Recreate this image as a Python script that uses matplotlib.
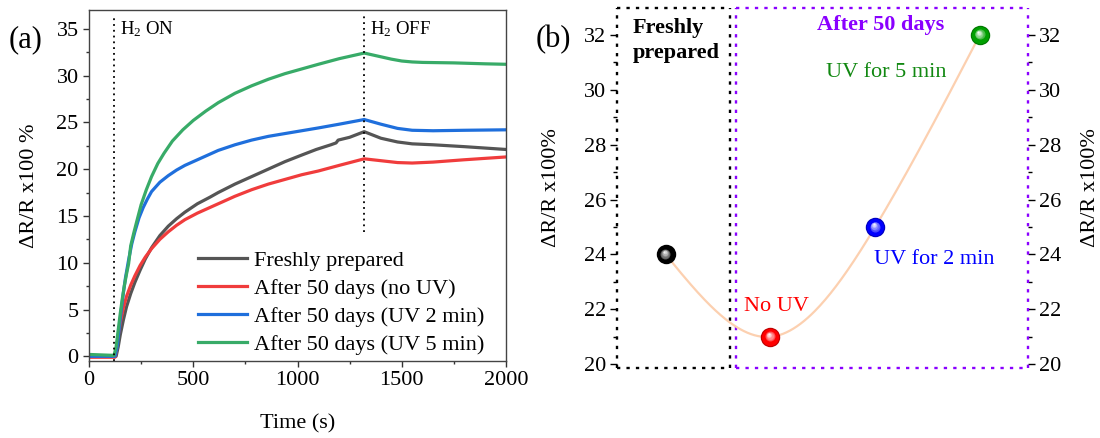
import numpy as np
import matplotlib
matplotlib.use("Agg")
import matplotlib.pyplot as plt
from matplotlib.ticker import MultipleLocator
from matplotlib.transforms import offset_copy
from matplotlib.colors import to_rgb

plt.rcParams["font.family"] = ["Liberation Serif", "DejaVu Serif"]
plt.rcParams["mathtext.fontset"] = "custom"
plt.rcParams["mathtext.rm"] = "Liberation Serif"
plt.rcParams["mathtext.it"] = "Liberation Serif:italic"

# ---------------- (a) transient H2 response ----------------
t_fresh = [0, 130, 140, 150, 165, 180, 200, 220, 245, 270, 300, 340, 380, 420,
           460, 520, 580, 620, 700, 780, 860, 940, 1020, 1090, 1160, 1185,
           1195, 1250, 1320, 1400, 1480, 1550, 1650, 1800, 2000]
r_fresh = [0.0, 0.0, 1.0, 2.3, 3.9, 5.3, 6.7, 7.9, 9.2, 10.4, 11.6, 12.9,
           13.9, 14.7, 15.4, 16.3, 17.0, 17.5, 18.4, 19.2, 20.0, 20.8, 21.5,
           22.1, 22.6, 22.8, 23.1, 23.4, 24.0, 23.3, 22.9, 22.7, 22.6, 22.4,
           22.1]

t_nouv = [0, 125, 132, 140, 150, 165, 180, 200, 220, 245, 270, 300, 340, 380,
          420, 460, 520, 580, 620, 700, 780, 860, 940, 1020, 1100, 1200, 1320,
          1400, 1480, 1550, 1650, 1800, 2000]
r_nouv = [-0.1, -0.1, 0.8, 2.2, 3.6, 5.2, 6.4, 7.6, 8.6, 9.7, 10.6, 11.5,
          12.5, 13.3, 14.0, 14.6, 15.3, 15.9, 16.3, 17.1, 17.8, 18.4, 18.9,
          19.4, 19.8, 20.4, 21.1, 20.9, 20.7, 20.65, 20.75, 21.0, 21.3]

t_uv2 = [0, 125, 135, 145, 155, 165, 175, 190, 205, 220, 240, 260, 280, 300,
         340, 380, 420, 460, 520, 580, 620, 700, 780, 860, 940, 1020, 1100,
         1200, 1320, 1400, 1480, 1550, 1650, 1800, 2000]
r_uv2 = [0.0, 0.0, 1.0, 3.0, 5.0, 6.8, 8.4, 10.3, 12.0, 13.3, 14.8, 15.9,
         16.8, 17.6, 18.6, 19.3, 19.9, 20.4, 21.0, 21.6, 22.0, 22.6, 23.1,
         23.5, 23.8, 24.1, 24.4, 24.8, 25.3, 24.8, 24.35, 24.15, 24.1, 24.15,
         24.2]

t_uv5 = [0, 120, 130, 140, 150, 160, 170, 180, 190, 200, 215, 230, 250, 275,
         300, 330, 360, 400, 450, 500, 560, 620, 700, 780, 860, 940, 1020,
         1100, 1200, 1320, 1360, 1400, 1450, 1500, 1550, 1600, 1750, 1900,
         2000]
r_uv5 = [0.2, 0.1, 1.0, 2.8, 4.6, 6.2, 7.6, 8.8, 9.9, 11.8, 13.2, 14.5, 16.2,
         17.8, 19.2, 20.6, 21.7, 23.0, 24.2, 25.2, 26.2, 27.1, 28.1, 28.9,
         29.6, 30.2, 30.7, 31.2, 31.8, 32.4, 32.2, 32.0, 31.75, 31.55, 31.45,
         31.4, 31.35, 31.25, 31.2]

series_labels = ["Freshly prepared", "After 50 days (no UV)",
                 "After 50 days (UV 2 min)", "After 50 days (UV 5 min)"]
series_colors = ["#555555", "#f03c3c", "#1f6fdc", "#38ab68"]

t_h2_on = 120
t_h2_off = 1320

# ---------------- (b) peak response summary ----------------
sample_pos = [1, 2, 3, 4]
peak_response = [24, 21, 25, 32]
ball_colors = ["#000000", "#ff0000", "#0000ff", "#00a000"]
sample_notes = ["No UV", "UV for 2 min", "UV for 5 min"]

fig = plt.figure(figsize=(11, 4.38), dpi=100)

# ===== panel (a) =====
ax = fig.add_axes([89 / 1100, 1 - 361 / 438, 417 / 1100, 351 / 438])
for t, r, lab, c in zip([t_fresh, t_nouv, t_uv2, t_uv5],
                        [r_fresh, r_nouv, r_uv2, r_uv5],
                        series_labels, series_colors):
    ax.plot(t, r, color=c, lw=2.3, label=lab, solid_joinstyle="round")

ax.plot([t_h2_on, t_h2_on], [-0.5, 36.4], color="black", lw=1.3,
        ls=(0, (1, 2.2)))
ax.plot([t_h2_off, t_h2_off], [13.3, 36.4], color="black", lw=1.3,
        ls=(0, (1, 2.2)))
ax.text(t_h2_on + 30, 35.0, r"H$_2$ ON", fontsize=13.5, va="center",
        ha="left")
ax.text(t_h2_off + 30, 35.0, r"H$_2$ OFF", fontsize=13.5, va="center",
        ha="left")

ax.set_xlim(0, 2000)
ax.set_ylim(-0.5, 37)
ax.xaxis.set_major_locator(MultipleLocator(500))
ax.xaxis.set_minor_locator(MultipleLocator(250))
ax.yaxis.set_major_locator(MultipleLocator(5))
ax.yaxis.set_minor_locator(MultipleLocator(2.5))
ax.tick_params(which="major", direction="out", length=4, width=1,
               labelsize=16, color="#333333")
ax.tick_params(which="minor", direction="out", length=2.5, width=1,
               color="#333333")
for s in ax.spines.values():
    s.set_color("#444444")
    s.set_linewidth(1.0)
ax.set_xlabel("Time (s)", fontsize=16)
ax.set_ylabel("\u0394R/R x100 %", fontsize=16)
ax.xaxis.set_label_coords(0.5, -0.152)
ax.yaxis.set_label_coords(-0.12, 0.5)

ax.legend(loc="lower left", bbox_to_anchor=(0.262, 0.018), frameon=False,
          fontsize=16, handlelength=2.2, handletextpad=0.3, labelspacing=0.33,
          borderpad=0, borderaxespad=0)

fig.text(26 / 1100, 1 - 40 / 438, "(a)", fontsize=22, ha="center", va="center")
fig.text(553 / 1100, 1 - 40 / 438, "(b)", fontsize=22, ha="center", va="center")

# ===== panel (b) =====
bx = fig.add_axes([617 / 1100, 1 - 368 / 438, 411 / 1100, 360 / 438])
bx.set_xlim(0.535, 4.46)
bx.set_ylim(19.865, 32.98)
for s in bx.spines.values():
    s.set_visible(False)
bx.set_xticks([])
bx.yaxis.set_major_locator(MultipleLocator(2))
bx.yaxis.set_minor_locator(MultipleLocator(1))
bx.tick_params(axis="y", which="both", left=True, right=True,
               labelleft=True, labelright=True, direction="out",
               labelsize=16, pad=3)
bx.tick_params(axis="y", which="major", length=5, width=1)
bx.tick_params(axis="y", which="minor", length=3, width=1)
bx.set_ylabel("\u0394R/R x100%", fontsize=16)
bx.yaxis.set_label_coords(-0.136, 0.5)
bx.text(1.153, 0.5, "\u0394R/R x100%", fontsize=16, rotation=90,
        transform=bx.transAxes, ha="center", va="center")

# dotted boxes grouping the samples
dot = (0, (1.4, 2.6))
xb, xp = 0.276, 0.290
box_kw = dict(transform=bx.transAxes, clip_on=False, lw=1.7, ls=dot)
bx.plot([0, 0], [0, 1], color="black", **box_kw)
bx.plot([0, xb], [1, 1], color="black", **box_kw)
bx.plot([0, xb], [0, 0], color="black", **box_kw)
bx.plot([xb, xb], [0, 1], color="black", **box_kw)
purple = "#8a00ff"
bx.plot([xp, xp], [0, 1], color=purple, **box_kw)
bx.plot([xp, 1], [1, 1], color=purple, **box_kw)
bx.plot([xp, 1], [0, 0], color=purple, **box_kw)
bx.plot([1, 1], [0, 1], color=purple, **box_kw)

# natural cubic spline through the summary points
xs = np.asarray(sample_pos, float)
ys = np.asarray(peak_response, float)
n = len(xs)
h = np.diff(xs)
A = np.zeros((n, n))
rhs = np.zeros(n)
A[0, 0] = A[-1, -1] = 1
for i in range(1, n - 1):
    A[i, i - 1] = h[i - 1]
    A[i, i] = 2 * (h[i - 1] + h[i])
    A[i, i + 1] = h[i]
    rhs[i] = 6 * ((ys[i + 1] - ys[i]) / h[i] - (ys[i] - ys[i - 1]) / h[i - 1])
M = np.linalg.solve(A, rhs)
cx, cy = [], []
for i in range(n - 1):
    u = np.linspace(xs[i], xs[i + 1], 60)
    a = (xs[i + 1] - u) / h[i]
    b = (u - xs[i]) / h[i]
    s = (a * ys[i] + b * ys[i + 1]
         + ((a ** 3 - a) * M[i] + (b ** 3 - b) * M[i + 1]) * h[i] ** 2 / 6)
    cx.append(u)
    cy.append(s)
bx.plot(np.concatenate(cx), np.concatenate(cy), color="#fcd0b0", lw=1.6,
        zorder=2)


def ball(axis, x, y, color, size=14.0):
    base = np.array(to_rgb(color))
    edge = "#000000" if color == "#000000" else base * 0.75
    axis.plot([x], [y], "o", ms=size, color=edge, mec="none", zorder=5)
    axis.plot([x], [y], "o", ms=size * 0.88, color=base, mec="none", zorder=6)
    steps = 6
    for k in range(steps):
        f = (k + 1) / steps
        col = base + (1 - base) * (0.15 + 0.8 * f)
        if color == "#000000":
            col = np.array([0.2, 0.2, 0.2]) + 0.75 * f
        col = np.clip(col, 0, 1)
        tr = offset_copy(axis.transData, fig=fig, x=-1.0 * f, y=1.9 * f,
                         units="points")
        axis.plot([x], [y], "o", ms=size * (0.6 - 0.5 * f), color=col,
                  mec="none", transform=tr, zorder=7 + k)


for x, y, c in zip(sample_pos, peak_response, ball_colors):
    ball(bx, x, y, c)

bx.text(0.039, 0.972, "Freshly\nprepared", transform=bx.transAxes,
        fontsize=16, fontweight="bold", ha="left", va="top", linespacing=1.3)
bx.text(0.642, 0.953, "After 50 days", transform=bx.transAxes, fontsize=16,
        fontweight="bold", color=purple, ha="center", va="center")
bx.text(0.387, 0.172, sample_notes[0], transform=bx.transAxes, fontsize=16,
        color="#ff0000", ha="center", va="center")
bx.text(0.771, 0.301, sample_notes[1], transform=bx.transAxes, fontsize=16,
        color="#0000ff", ha="center", va="center")
bx.text(0.655, 0.822, sample_notes[2], transform=bx.transAxes, fontsize=16,
        color="#118811", ha="center", va="center")

fig.savefig("out.png", dpi=100)
